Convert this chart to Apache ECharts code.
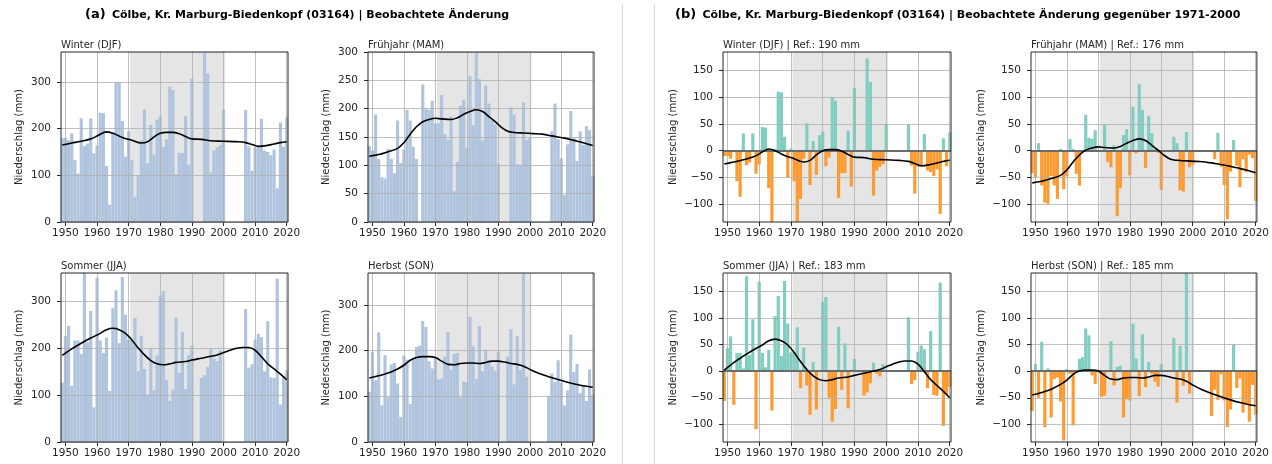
<!DOCTYPE html>
<html><head><meta charset="utf-8">
<script src="https://cdn.jsdelivr.net/npm/echarts@6/dist/echarts.min.js"></script>
<style>html,body{margin:0;padding:0;background:#fff}#c{width:1272px;height:464px}</style>
</head><body><div id="c"></div>
<script>
// ---------------- DATA ----------------
const YEARS = Array.from({length: 72}, (_, i) => 1949 + i);

const WINTER = [180,180,175,190,133,104,222,163,168,222,147,164,234,233,120,37,193,300,299,216,140,194,133,54,100,175,241,126,208,145,219,226,161,177,290,283,102,148,148,227,123,307,
  null,null,null,362,318,106,153,160,165,240,null,null,null,null,null,null,
  240,162,110,160,160,221,153,150,143,155,72,213,161,224];
const SPRING = [134,126,190,111,79,77,129,111,86,179,104,128,198,179,133,111,null,243,200,198,214,174,174,224,155,145,186,54,106,205,216,130,258,171,300,252,144,241,209,180,172,103,
  null,null,null,202,190,102,100,211,145,150,null,null,null,null,null,null,
  160,209,146,112,48,137,196,148,108,160,136,169,162,82];
const SUMMER = [127,226,248,120,217,217,188,361,213,280,74,351,217,190,223,109,286,324,211,352,272,218,218,265,151,227,156,101,200,111,185,313,322,133,88,112,266,148,235,113,186,206,
  null,null,137,143,160,199,178,173,196,null,null,null,null,null,null,null,
  284,159,166,219,231,224,151,258,138,137,349,80,140,153];
const AUTUMN = [110,198,135,240,80,190,98,170,173,128,55,189,180,83,183,208,211,265,252,177,161,185,137,139,187,241,158,193,195,98,132,130,274,209,138,254,155,202,180,165,156,198,
  null,null,187,247,126,232,158,369,143,null,null,null,null,null,null,
  101,150,131,179,130,80,113,235,153,171,107,125,90,159,103];

const WINTER_SMOOTH = [[1949,165],[1952,169],[1955,173],[1958,178],[1960,184],[1962,191],[1963,193],[1965,190],[1968,181],[1971,175],[1974,169],[1976,172],[1978,182],[1980,190],[1982,192],[1984,192],[1986,189],[1988,183],[1990,178],[1993,177],[1996,174],[2000,173],[2004,172],[2007,170],[2009,166],[2011,162],[2013,163],[2016,167],[2018,170],[2020,172]];
const SPRING_SMOOTH = [[1949,116],[1952,119],[1955,124],[1958,130],[1960,140],[1962,155],[1964,168],[1966,177],[1968,181],[1970,183],[1972,182],[1975,181],[1977,184],[1979,190],[1981,195],[1983,198],[1985,195],[1987,186],[1989,177],[1991,167],[1993,160],[1995,158],[1998,157],[2001,156],[2004,155],[2007,152],[2011,148],[2014,144],[2017,140],[2020,135]];
const SUMMER_SMOOTH = [[1949,185],[1952,199],[1955,211],[1958,222],[1961,232],[1963,240],[1965,243],[1967,240],[1969,232],[1971,218],[1973,201],[1975,186],[1977,174],[1979,167],[1981,165],[1983,167],[1985,170],[1988,172],[1990,175],[1993,179],[1996,183],[1998,186],[2000,191],[2002,196],[2004,200],[2006,202],[2008,202],[2010,196],[2012,182],[2014,167],[2016,156],[2018,145],[2020,133]];
const AUTUMN_SMOOTH = [[1949,140],[1952,145],[1955,151],[1958,160],[1960,168],[1962,179],[1964,185],[1966,187],[1968,187],[1970,185],[1972,177],[1974,170],[1976,169],[1978,172],[1980,173],[1982,173],[1984,172],[1986,174],[1988,177],[1990,177],[1992,175],[1994,172],[1996,170],[1998,166],[2000,159],[2003,150],[2006,143],[2009,137],[2012,131],[2015,126],[2018,122],[2020,120]];

const REF_WINTER = 190, REF_SPRING = 176, REF_SUMMER = 183, REF_AUTUMN = 185;
const REF_PERIOD = [1971, 2000];

const X_TICKS = [1950,1960,1970,1980,1990,2000,2010,2020];
const Y_TICKS_WINTER = [0,100,200,300];
const Y_TICKS_SPRING = [0,50,100,150,200,250,300];
const Y_TICKS_SUMMER = [0,100,200,300];
const Y_TICKS_AUTUMN = [0,100,200,300];
const Y_TICKS_ANOM = [-100,-50,0,50,100,150];
const Y_MAX_WINTER = 364, Y_MAX_SPRING = 300, Y_MAX_SUMMER = 361, Y_MAX_AUTUMN = 370;
const ANOM_MIN = -133, ANOM_MAX = 184;

const TITLE_A = ['(a)', 'Cölbe, Kr. Marburg-Biedenkopf (03164) | Beobachtete Änderung'];
const TITLE_B = ['(b)', 'Cölbe, Kr. Marburg-Biedenkopf (03164) | Beobachtete Änderung gegenüber 1971-2000'];
const Y_NAME = 'Niederschlag (mm)';

// ---------------- BUILD ----------------
const FONT = 'DejaVu Sans';
const TXT = '#262626';
const BLUE = '#b0c4de', TEAL = '#80cdc1', ORANGE = '#fe9a2e';
const SEASONS = {
  winter: {name: 'Winter (DJF)', vals: WINTER, smooth: WINTER_SMOOTH, ref: REF_WINTER, ticks: Y_TICKS_WINTER, ymax: Y_MAX_WINTER},
  spring: {name: 'Frühjahr (MAM)', vals: SPRING, smooth: SPRING_SMOOTH, ref: REF_SPRING, ticks: Y_TICKS_SPRING, ymax: Y_MAX_SPRING},
  summer: {name: 'Sommer (JJA)', vals: SUMMER, smooth: SUMMER_SMOOTH, ref: REF_SUMMER, ticks: Y_TICKS_SUMMER, ymax: Y_MAX_SUMMER},
  autumn: {name: 'Herbst (SON)', vals: AUTUMN, smooth: AUTUMN_SMOOTH, ref: REF_AUTUMN, ticks: Y_TICKS_AUTUMN, ymax: Y_MAX_AUTUMN}
};
const PANELS = [
  {key: 'winter', anom: false, g: {left: 61,   top: 52,  width: 227, height: 170}},
  {key: 'spring', anom: false, g: {left: 368,  top: 52,  width: 226, height: 170}},
  {key: 'summer', anom: false, g: {left: 61,   top: 273, width: 227, height: 169}},
  {key: 'autumn', anom: false, g: {left: 368,  top: 273, width: 226, height: 169}},
  {key: 'winter', anom: true,  g: {left: 723,  top: 52,  width: 228, height: 170}},
  {key: 'spring', anom: true,  g: {left: 1031, top: 52,  width: 227, height: 170}},
  {key: 'summer', anom: true,  g: {left: 723,  top: 273, width: 228, height: 169}},
  {key: 'autumn', anom: true,  g: {left: 1031, top: 273, width: 227, height: 169}}
];
const fmt = v => v < 0 ? '\u2212' + Math.abs(v) : String(v);
const fmtYear = v => String(Math.round(v));
const gridLine = {color: '#b0b0b0', width: 0.8, type: 'solid'};

const grids = [], xAxes = [], yAxes = [], series = [];
const titles = [
  {text: '{a|' + TITLE_A[0] + '} {b|' + TITLE_A[1] + '}', left: 85, top: 6, padding: 0,
   textStyle: {rich: {a: {fontSize: 13, fontFamily: FONT, color: '#000'}, b: {fontSize: 11, fontWeight: 'bold', fontFamily: FONT, color: '#000'}}}},
  {text: '{a|' + TITLE_B[0] + '} {b|' + TITLE_B[1] + '}', left: 675, top: 6, padding: 0,
   textStyle: {rich: {a: {fontSize: 13, fontFamily: FONT, color: '#000'}, b: {fontSize: 11, fontWeight: 'bold', fontFamily: FONT, color: '#000'}}}}
];

PANELS.forEach((p, i) => {
  const s = SEASONS[p.key];
  const off = p.anom ? s.ref : 0;
  const barData = [];
  YEARS.forEach((y, j) => { if (s.vals[j] != null) barData.push([y, s.vals[j] - off]); });
  const lineData = s.smooth.map(d => [d[0], d[1] - off]);
  const yTicks = p.anom ? Y_TICKS_ANOM : s.ticks;

  grids.push(Object.assign({show: true, z: 10, backgroundColor: 'transparent', borderColor: '#262626', borderWidth: 1}, p.g));
  xAxes.push({type: 'value', gridIndex: i, min: 1948.6, max: 2020.4,
    splitLine: {show: false}, axisLine: {show: false, onZero: false},
    axisTick: {show: true, customValues: X_TICKS, length: 4, lineStyle: {color: TXT, width: 1}},
    axisLabel: {customValues: X_TICKS, formatter: fmtYear, margin: 6, fontSize: 10.5, color: TXT, fontFamily: FONT}});
  yAxes.push({type: 'value', gridIndex: i, min: p.anom ? ANOM_MIN : 0, max: p.anom ? ANOM_MAX : s.ymax,
    splitLine: {show: false}, axisLine: {show: false, onZero: false},
    axisTick: {show: true, customValues: yTicks, length: 4, lineStyle: {color: TXT, width: 1}},
    axisLabel: {customValues: yTicks, formatter: fmt, margin: 10, fontSize: 10.5, color: TXT, fontFamily: FONT},
    name: Y_NAME, nameLocation: 'middle', nameGap: p.anom ? 45 : 37,
    nameTextStyle: {fontSize: 10, color: TXT, fontFamily: FONT}});

  const mlData = X_TICKS.map(x => ({xAxis: x, lineStyle: gridLine}))
    .concat(yTicks.map(y => ({yAxis: y, lineStyle: gridLine})));
  if (p.anom) mlData.push({yAxis: 0, lineStyle: {color: '#6b6b6b', width: 1.8, type: 'solid'}});

  series.push({type: 'bar', xAxisIndex: i, yAxisIndex: i, data: barData, barWidth: '100%', z: 2,
    animation: false, silent: true,
    itemStyle: {color: p.anom ? (prm => prm.value[1] >= 0 ? TEAL : ORANGE) : BLUE},
    markArea: {silent: true, z: 1, label: {show: false}, itemStyle: {color: '#e5e5e5'},
      data: [[{xAxis: REF_PERIOD[0] - 0.5}, {xAxis: REF_PERIOD[1] + 0.5}]]},
    markLine: {silent: true, z: 5, symbol: ['none', 'none'], label: {show: false}, animation: false,
      lineStyle: {type: 'solid'}, data: mlData}});
  series.push({type: 'line', xAxisIndex: i, yAxisIndex: i, data: lineData, smooth: 0.4,
    showSymbol: false, symbol: 'none', z: 6, animation: false, silent: true,
    lineStyle: {color: '#000', width: 1.6}});

  titles.push({text: p.anom ? s.name + ' | Ref.: ' + s.ref + ' mm' : s.name,
    left: p.g.left, top: p.g.top - 12, padding: 0,
    textStyle: {fontSize: 10, fontWeight: 'normal', color: TXT, fontFamily: FONT}});
});

const chart = echarts.init(document.getElementById('c'), null, {renderer: 'canvas'});
chart.setOption({
  backgroundColor: '#fff',
  animation: false,
  textStyle: {fontFamily: FONT},
  title: titles,
  grid: grids, xAxis: xAxes, yAxis: yAxes, series: series,
  graphic: [
    {type: 'line', shape: {x1: 622.5, y1: 5, x2: 622.5, y2: 464}, style: {stroke: '#d6d6d6', lineWidth: 1}, silent: true},
    {type: 'line', shape: {x1: 654.5, y1: 5, x2: 654.5, y2: 464}, style: {stroke: '#d6d6d6', lineWidth: 1}, silent: true}
  ]
});
</script></body></html>
